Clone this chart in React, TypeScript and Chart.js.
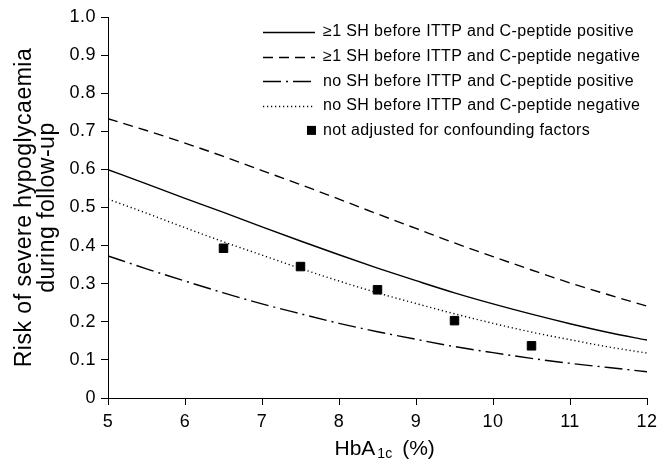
import React, { useEffect, useRef } from 'react';
import { Chart, registerables } from 'chart.js';

Chart.register(...registerables);

const FONT = '"Liberation Sans", Arial, Helvetica, sans-serif';

// HbA1c (%) sampling points for the fitted curves
const hba1c = [5, 5.5, 6, 6.5, 7, 7.5, 8, 8.5, 9, 9.5, 10, 10.5, 11, 11.5, 12];

// Risk curves
const shCpepPositive = [0.599, 0.562, 0.524, 0.487, 0.449, 0.412, 0.376, 0.341, 0.308, 0.276, 0.247, 0.22, 0.195, 0.172, 0.152];
const shCpepNegative = [0.733, 0.702, 0.669, 0.634, 0.597, 0.56, 0.522, 0.483, 0.445, 0.407, 0.371, 0.336, 0.302, 0.271, 0.241];
const noShCpepPositive = [0.373, 0.339, 0.307, 0.276, 0.247, 0.221, 0.196, 0.174, 0.154, 0.135, 0.119, 0.104, 0.091, 0.08, 0.069];
const noShCpepNegative = [0.522, 0.485, 0.447, 0.41, 0.375, 0.34, 0.307, 0.276, 0.248, 0.221, 0.196, 0.173, 0.153, 0.134, 0.118];

// Unadjusted observations
const unadjustedX = [6.5, 7.5, 8.5, 9.5, 10.5];
const unadjustedY = [0.393, 0.345, 0.284, 0.203, 0.137];

const seriesLabels = [
  '\u22651 SH before ITTP and C-peptide positive',
  '\u22651 SH before ITTP and C-peptide negative',
  'no SH before ITTP and C-peptide positive',
  'no SH before ITTP and C-peptide negative',
  'not adjusted for confounding factors',
];

const yTitle = ['Risk of severe hypoglycaemia', 'during follow-up'];
const xTitleMain = 'HbA';
const xTitleSub = '1c';
const xTitleUnit = '(%)';

const xMin = 5;
const xMax = 12;
const yMin = 0;
const yMax = 1;

const toPoints = (xs: number[], ys: number[]) => xs.map((x, i) => ({ x, y: ys[i] }));

const spacingPlugin = {
  id: 'letterSpacing',
  beforeDraw(chart: any) {
    (chart.ctx as any).letterSpacing = '0.5px';
  },
};

const legendPlugin = {
  id: 'customLegend',
  afterDraw(chart: any) {
    const ctx = chart.ctx as CanvasRenderingContext2D;
    const { left, top } = chart.chartArea;
    const lineX0 = left + 155;
    const lineX1 = left + 207;
    const textX = left + 215;
    const rowY0 = top + 15;
    const pitch = 24.6;
    ctx.save();
    chart.data.datasets.forEach((ds: any, i: number) => {
      const y = rowY0 + i * pitch;
      if (ds.showLine) {
        ctx.beginPath();
        ctx.strokeStyle = ds.borderColor;
        ctx.lineWidth = ds.borderWidth;
        ctx.setLineDash(ds.borderDash || []);
        ctx.moveTo(lineX0, Math.round(y) + 0.5);
        ctx.lineTo(lineX1, Math.round(y) + 0.5);
        ctx.stroke();
      } else {
        ctx.fillStyle = ds.pointBackgroundColor;
        ctx.fillRect(lineX1 - 8, y - 4.5, 9, 9);
      }
      ctx.setLineDash([]);
      ctx.fillStyle = '#000';
      ctx.font = `16px ${FONT}`;
      (ctx as any).letterSpacing = '0.35px';
      ctx.textAlign = 'left';
      ctx.textBaseline = 'middle';
      ctx.fillText(ds.label, textX, y);
    });
    ctx.restore();
  },
};

const xTitlePlugin = {
  id: 'xTitleSubscript',
  afterDraw(chart: any) {
    const ctx = chart.ctx as CanvasRenderingContext2D;
    const { left, right, bottom } = chart.chartArea;
    const cx = (left + right) / 2;
    const baseY = bottom + 56.5;
    ctx.save();
    (ctx as any).letterSpacing = '0px';
    ctx.fillStyle = '#000';
    ctx.textAlign = 'left';
    ctx.textBaseline = 'alphabetic';
    ctx.font = `21px ${FONT}`;
    const x0 = cx - 43;
    ctx.fillText(xTitleMain, x0, baseY);
    const w1 = ctx.measureText(xTitleMain).width;
    ctx.font = `14px ${FONT}`;
    const x1 = x0 + w1 + 2;
    ctx.fillText(xTitleSub, x1, baseY + 3.5);
    const w2 = ctx.measureText(xTitleSub).width;
    ctx.font = `21px ${FONT}`;
    ctx.fillText(xTitleUnit, x1 + w2 + 10, baseY);
    ctx.restore();
  },
};

export default function App() {
  const canvasRef = useRef<HTMLCanvasElement | null>(null);

  useEffect(() => {
    document.body.style.margin = '0';
    const canvas = canvasRef.current;
    if (!canvas) return;
    Chart.defaults.font.family = FONT;
    Chart.defaults.color = '#000';

    const lineCommon = {
      showLine: true,
      pointRadius: 0,
      pointHoverRadius: 0,
      borderColor: '#000',
      backgroundColor: '#000',
      borderWidth: 1.4,
      fill: false,
      cubicInterpolationMode: 'monotone' as const,
    };

    const chart = new Chart(canvas, {
      type: 'scatter',
      data: {
        datasets: [
          { ...lineCommon, label: seriesLabels[0], data: toPoints(hba1c, shCpepPositive), borderDash: [] },
          { ...lineCommon, label: seriesLabels[1], data: toPoints(hba1c, shCpepNegative), borderDash: [10, 6] },
          { ...lineCommon, label: seriesLabels[2], data: toPoints(hba1c, noShCpepPositive), borderDash: [18, 5, 2, 5] },
          { ...lineCommon, label: seriesLabels[3], data: toPoints(hba1c, noShCpepNegative), borderDash: [1.2, 2.8] },
          {
            label: seriesLabels[4],
            data: toPoints(unadjustedX, unadjustedY),
            showLine: false,
            pointStyle: 'rect',
            pointRadius: 6,
            pointHoverRadius: 6,
            pointBackgroundColor: '#000',
            pointBorderColor: '#000',
            pointBorderWidth: 1,
            borderColor: '#000',
            backgroundColor: '#000',
          },
        ],
      },
      options: {
        responsive: false,
        animation: false,
        devicePixelRatio: 1,
        events: [],
        layout: { padding: { top: 17, right: 13, left: 0, bottom: 0 } },
        plugins: {
          legend: { display: false },
          tooltip: { enabled: false },
          title: { display: false },
        },
        scales: {
          x: {
            type: 'linear',
            min: xMin,
            max: xMax,
            afterFit: (scale: any) => {
              scale.height = 62;
              scale.paddingLeft = 0;
              scale.paddingRight = 0;
            },
            ticks: {
              stepSize: 1,
              color: '#000',
              padding: 6,
              font: { size: 18, family: FONT },
              maxRotation: 0,
            },
            grid: {
              display: true,
              drawOnChartArea: false,
              drawTicks: true,
              tickLength: 7,
              color: '#000',
              lineWidth: 1,
            },
            border: { display: true, color: '#000', width: 1 },
          },
          y: {
            type: 'linear',
            min: yMin,
            max: yMax,
            afterFit: (scale: any) => {
              scale.width = 108;
              scale.paddingTop = 0;
              scale.paddingBottom = 0;
            },
            ticks: {
              stepSize: 0.1,
              color: '#000',
              padding: 5,
              font: { size: 18, family: FONT },
              callback: (v: any) => (Number(v) === 0 ? '0' : Number(v).toFixed(1)),
            },
            grid: {
              display: true,
              drawOnChartArea: false,
              drawTicks: true,
              tickLength: 7,
              color: '#000',
              lineWidth: 1,
            },
            border: { display: true, color: '#000', width: 1 },
            title: {
              display: true,
              text: yTitle,
              color: '#000',
              font: { size: 23, family: FONT, lineHeight: 1.0 },
              padding: { top: 13, bottom: 0 },
            },
          },
        },
      },
      plugins: [spacingPlugin, legendPlugin, xTitlePlugin],
    });

    return () => {
      chart.destroy();
    };
  }, []);

  return (
    <div style={{ position: 'fixed', left: 0, top: 0, width: 660, height: 460, background: '#fff' }}>
      <canvas ref={canvasRef} width={660} height={460} style={{ width: 660, height: 460, display: 'block' }} />
    </div>
  );
}
